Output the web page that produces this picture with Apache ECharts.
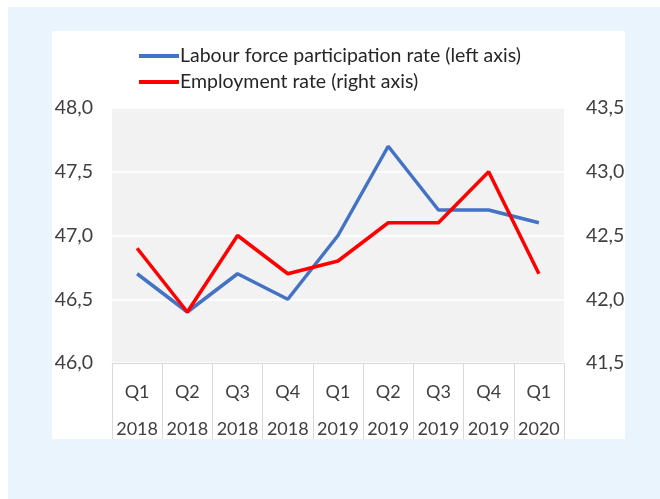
<!DOCTYPE html>
<html><head><meta charset="utf-8">
<script src="https://cdn.jsdelivr.net/npm/echarts@6/dist/echarts.min.js"></script>
<style>html,body{margin:0;padding:0;background:#fff}#c{width:660px;height:499px}</style>
</head><body><div id="c"></div>
<script>
const quarters = ['Q1','Q2','Q3','Q4','Q1','Q2','Q3','Q4','Q1'];
const years = ['2018','2018','2018','2018','2019','2019','2019','2019','2020'];
const participation = [46.7, 46.4, 46.7, 46.5, 47.0, 47.7, 47.2, 47.2, 47.1];
const employment = [42.4, 41.9, 42.5, 42.2, 42.3, 42.6, 42.6, 43.0, 42.2];
const seriesNames = ['Labour force participation rate (left axis)', 'Employment rate (right axis)'];

const categories = quarters.map((q, i) => q + '\n' + years[i]);
const fmt = v => v.toFixed(1).replace('.', ',');
const FONT = 'Lato';

const chart = echarts.init(document.getElementById('c'));
chart.setOption({
  animation: false,
  backgroundColor: '#ffffff',
  graphic: [
    { type: 'rect', z: -10, silent: true, shape: { x: 8, y: 7, width: 652, height: 492 }, style: { fill: '#EAF4FD' } },
    { type: 'rect', z: -9, silent: true, shape: { x: 52, y: 31, width: 573, height: 408 }, style: { fill: '#ffffff' } },
    { type: 'rect', z: 100, silent: true, shape: { x: 8, y: 439, width: 652, height: 60 }, style: { fill: '#EAF4FD' } }
  ],
  legend: {
    orient: 'vertical',
    left: 134,
    top: 41,
    itemWidth: 40,
    itemHeight: 4,
    itemGap: 6,
    icon: 'rect',
    textStyle: { fontFamily: FONT, fontSize: 19.5, color: '#262626', padding: [0, 0, 0, -4] },
    data: seriesNames
  },
  grid: {
    left: 112, right: 96, top: 108, bottom: 136,
    show: true, backgroundColor: '#F2F2F2', borderWidth: 0
  },
  xAxis: {
    type: 'category',
    data: categories,
    boundaryGap: true,
    axisLine: { show: true, lineStyle: { color: '#D9D9D9', width: 1 } },
    axisTick: { show: true, interval: 0, length: 80, lineStyle: { color: '#D9D9D9', width: 1 } },
    axisLabel: { interval: 0, margin: 11, fontFamily: FONT, fontSize: 18, color: '#404040', lineHeight: 37 }
  },
  yAxis: [
    {
      type: 'value', min: 46, max: 48, interval: 0.5,
      axisLine: { show: false }, axisTick: { show: false },
      splitLine: { show: true, lineStyle: { color: '#ffffff', width: 1.5 } },
      axisLabel: { formatter: fmt, margin: 19, fontFamily: FONT, fontSize: 19.5, color: '#404040' }
    },
    {
      type: 'value', min: 41.5, max: 43.5, interval: 0.5,
      axisLine: { show: false }, axisTick: { show: false },
      splitLine: { show: false },
      axisLabel: { formatter: fmt, margin: 22, fontFamily: FONT, fontSize: 19.5, color: '#404040' }
    }
  ],
  series: [
    {
      name: seriesNames[0], type: 'line', yAxisIndex: 0, data: participation,
      symbol: 'none', lineStyle: { color: '#4472C4', width: 3.5 }, itemStyle: { color: '#4472C4' }
    },
    {
      name: seriesNames[1], type: 'line', yAxisIndex: 1, data: employment,
      symbol: 'none', lineStyle: { color: '#FF0000', width: 3.5 }, itemStyle: { color: '#FF0000' }
    }
  ]
});
</script>
</body></html>
